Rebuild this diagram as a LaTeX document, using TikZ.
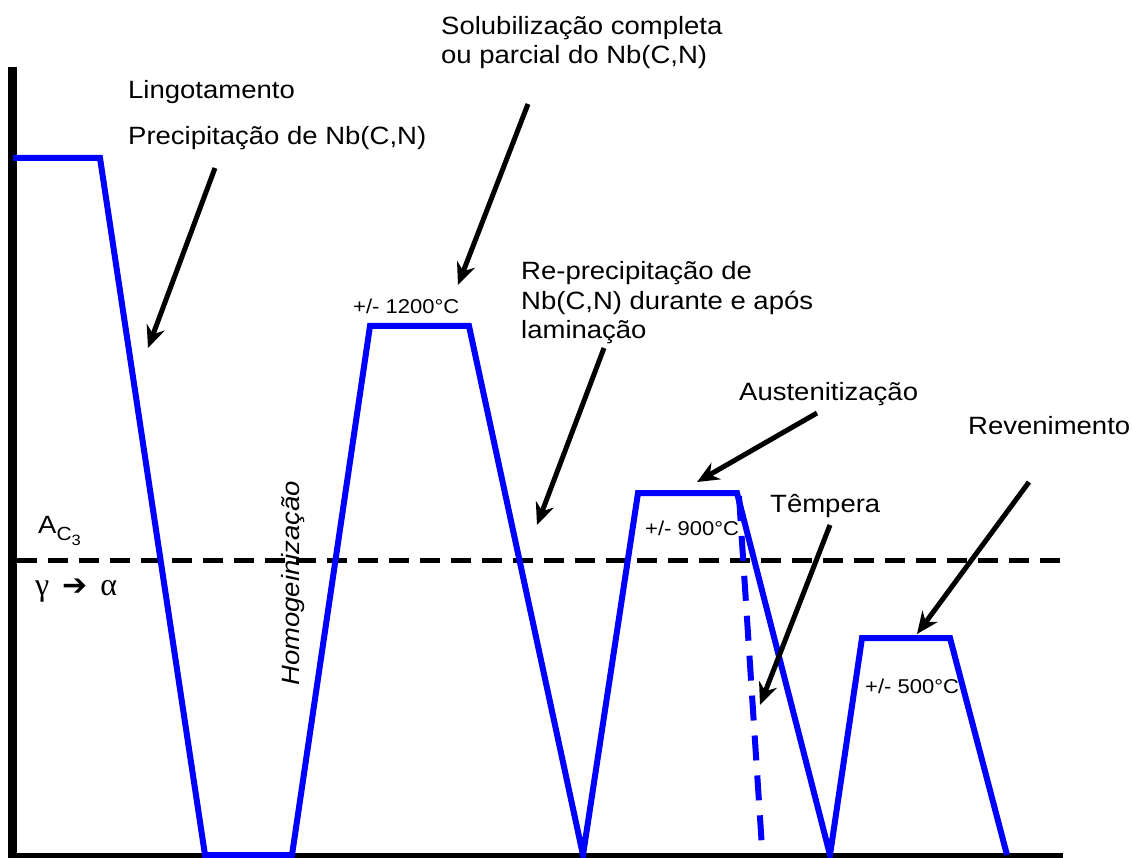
\documentclass[tikz,border=0pt]{standalone}
\usepackage{fontspec}
\setmainfont{Liberation Sans}[FakeStretch=1.1]
\newfontfamily\greekfont{Liberation Serif}
\newfontfamily\symbfont{DejaVu Sans}
\usetikzlibrary{arrows.meta}
\definecolor{profileblue}{RGB}{0,0,255}
\tikzstyle{txt} = [anchor=base west, inner sep=0pt, align=left, font=\fontsize{25}{29.5}\selectfont]
\tikzstyle{temp} = [anchor=base west, inner sep=0pt, font=\fontsize{20}{24}\selectfont]
\tikzstyle{profile} = [draw=profileblue, line width=6pt]
\tikzstyle{quench} = [draw=profileblue, line width=6pt, dash pattern=on 25pt off 15pt]
\tikzstyle{axisline} = [line width=9pt]
\tikzstyle{acline} = [line width=5pt, dash pattern=on 20pt off 11pt]
\tikzstyle{pointer} = [line width=5pt, -{Stealth[length=22pt,width=19pt]}]

\begin{document}
\begin{tikzpicture}[x=1pt, y=-1pt]
		\useasboundingbox (0,0) rectangle (1132,858);
		% axes and A_C3 line
		\draw [axisline] (12.5,67) -- (12.5,858);
		\draw [line width=5pt] (8,855.5) -- (1063,855.5);
		\draw [acline] (17,560) -- (1060,560);
		% thermal cycle
		\draw [profile] (13,158) -- (100,158) -- (205,855) -- (292,855) -- (370,326) -- (469,326) -- (583,855) -- (638,493) -- (737,493) -- (830,855) -- (862,638) -- (950,638) -- (1007,855);
		\draw [quench] (739,496) -- (762,848);
		% labels
		\node(lingot) [txt] at (128,99) {Lingotamento};
		\node(precip) [txt] at (128,145) {Precipitação de Nb(C,N)};
		\node(solub) [txt] at (441,64) {Solubilização completa\\ou parcial do Nb(C,N)};
		\node(reprec) [txt] at (521,339) {Re-precipitação de\\Nb(C,N) durante e após\\laminação};
		\node(austen) [txt] at (739,400) {Austenitização};
		\node(tempera) [txt] at (770,512) {Têmpera};
		\node(reven) [txt] at (968,434) {Revenimento};
		\node(homog) [txt, rotate=90, font=\fontsize{25}{29.5}\selectfont\itshape] at (299,686) {Homogeinização};
		\node(t1200) [temp] at (353,314) {+/- 1200°C};
		\node(t900) [temp] at (645,535) {+/- 900°C};
		\node(t500) [temp] at (865,693) {+/- 500°C};
		\node(ac3) [txt] at (38,533) {A\raisebox{-7pt}{\fontsize{19}{19}\selectfont C\raisebox{-5pt}{\fontsize{15}{15}\selectfont 3}}};
		\node(gamma) [txt] at (35,595) {{\greekfont\fontsize{32}{32}\selectfont γ}\hspace{13pt}{\symbfont\fontsize{30}{30}\selectfont ➔}\hspace{13pt}{\greekfont\fontsize{32}{32}\selectfont α}};
		% pointers
		\coordinate (p1s) at (215,168);
		\coordinate (p1e) at (148,348);
		\coordinate (p2s) at (528,104);
		\coordinate (p2e) at (458,285);
		\coordinate (p3s) at (604,348);
		\coordinate (p3e) at (537,525);
		\coordinate (p4s) at (817,413);
		\coordinate (p4e) at (697,482);
		\coordinate (p5s) at (830,525);
		\coordinate (p5e) at (760,705);
		\coordinate (p6s) at (1029,482);
		\coordinate (p6e) at (917,634);
		\draw [pointer] (p1s) -- (p1e);
		\draw [pointer] (p2s) -- (p2e);
		\draw [pointer] (p3s) -- (p3e);
		\draw [pointer] (p4s) -- (p4e);
		\draw [pointer] (p5s) -- (p5e);
		\draw [pointer] (p6s) -- (p6e);
	\end{tikzpicture}
\end{document}
